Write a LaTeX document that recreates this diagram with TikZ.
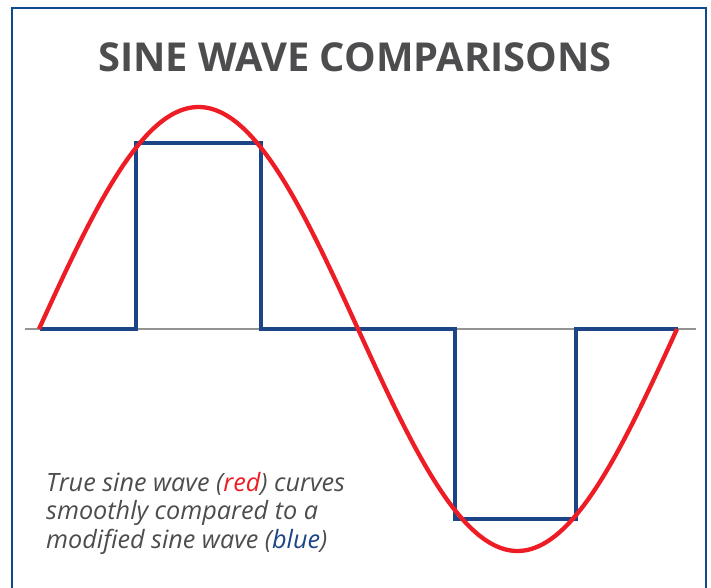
\documentclass[tikz,border=0pt]{standalone}
\usepackage{fontspec}
\setmainfont{Open Sans}
\usepackage{tikz}
\usetikzlibrary{positioning}

\definecolor{framblue}{HTML}{0E4A8C}
\definecolor{wavblue}{HTML}{1C4587}
\definecolor{wavred}{HTML}{EE1C25}
\definecolor{txtgray}{HTML}{4D4D4F}

\tikzset{
  frameline/.style={line width=2bp, framblue},
  axisline/.style={line width=2.2bp, gray!85},
  redwave/.style={line width=4.3bp, wavred},
  bluewave/.style={line width=4bp, wavblue, line join=miter},
}

\begin{document}
\begin{tikzpicture}[x=1bp, y=-1bp]
\useasboundingbox (0,0) rectangle (711,588);

% Cornice aperta in basso
\draw[frameline] (12,588) -- (12,8) -- (706,8) -- (706,588);

% Titolo
\node[font=\fontsize{40}{48}\selectfont\bfseries, text=txtgray, anchor=base] (titolo) at (355,72) {SINE WAVE COMPARISONS};

% Asse orizzontale
\coordinate (asseA) at (25,329);
\coordinate (asseB) at (696,329);
\draw[axisline] (asseA) -- (asseB);

% Onda quadra modificata (blu)
\draw[bluewave] (40,329) -- (136,329) -- (136,143) -- (261,143) -- (261,329)
  -- (455,329) -- (455,519) -- (576,519) -- (576,329) -- (678,329);

% Sinusoide vera (rossa)
\draw[redwave] plot[domain=0:360, samples=120, smooth] ({39+\x/360*638},{329-222*sin(\x)});

% Didascalia
\node[font=\fontsize{25.3}{28.5}\selectfont\itshape, text=txtgray, align=left, anchor=base west, inner sep=0pt] (nota) at (46,548)
  {True sine wave (\textcolor{wavred}{red}) curves\\
   smoothly compared to a\\
   modified sine wave (\textcolor{wavblue}{blue})};

\end{tikzpicture}
\end{document}
